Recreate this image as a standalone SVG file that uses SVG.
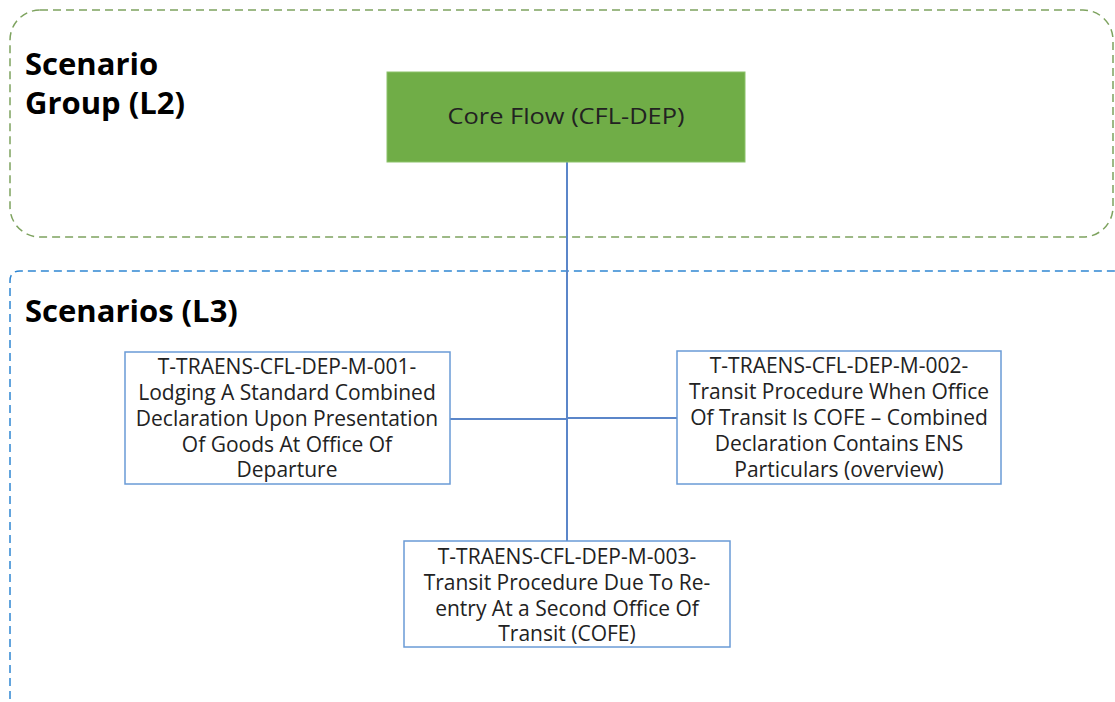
<svg xmlns="http://www.w3.org/2000/svg" width="1115" height="702" viewBox="0 0 1115 702">
<style>
.grp{fill:none;stroke-width:1.5;stroke-dasharray:8 5}
.ttl{font-family:"Open Sans","Liberation Sans",Arial,sans-serif;font-weight:bold;font-size:31px;fill:#000}
.box{fill:#fff;stroke:#6a9bd6;stroke-width:1.5}
.t{font-family:"Open Sans","Liberation Sans",Arial,sans-serif;font-size:21px;fill:#222;text-anchor:middle}
.con{stroke:#5b86c9;stroke-width:2;fill:none}
</style>
<rect width="1115" height="702" fill="#fff"/>
<g id="group-l2">
<rect class="grp" x="10" y="10" width="1103" height="227" rx="30" ry="30" stroke="#7ea35f"/>
<text class="ttl" x="25" y="75">Scenario</text>
<text class="ttl" x="25" y="114">Group (L2)</text>
</g>
<g id="group-l3">
<path class="grp" d="M10 712 V281 Q10 271 20 271 H1125" stroke="#2f86d2"/>
<text class="ttl" x="25" y="322">Scenarios (L3)</text>
</g>
<g id="connectors">
<line class="con" x1="567" y1="162" x2="567" y2="541"/>
<line class="con" x1="450" y1="419" x2="567" y2="419"/>
<line class="con" x1="567" y1="418" x2="677" y2="418"/>
</g>
<g id="core-flow">
<rect x="387" y="72" width="358" height="90" fill="#70ad47" stroke="#8cc26a" stroke-width="1"/>
<text class="t" x="566" y="124" font-size="25" textLength="237" lengthAdjust="spacingAndGlyphs">Core Flow (CFL-DEP)</text>
</g>
<g id="m001">
<rect class="box" x="125" y="352" width="325" height="132"/>
<text class="t" x="287" y="374">T-TRAENS-CFL-DEP-M-001-</text>
<text class="t" x="287" y="400">Lodging A Standard Combined</text>
<text class="t" x="287" y="426">Declaration Upon Presentation</text>
<text class="t" x="287" y="452">Of Goods At Office Of</text>
<text class="t" x="287" y="477">Departure</text>
</g>
<g id="m002">
<rect class="box" x="677" y="351" width="324" height="133"/>
<text class="t" x="839" y="373">T-TRAENS-CFL-DEP-M-002-</text>
<text class="t" x="839" y="399">Transit Procedure When Office</text>
<text class="t" x="839" y="425">Of Transit Is COFE – Combined</text>
<text class="t" x="839" y="451">Declaration Contains ENS</text>
<text class="t" x="839" y="477">Particulars (overview)</text>
</g>
<g id="m003">
<rect class="box" x="404" y="541" width="326" height="106"/>
<text class="t" x="567" y="564">T-TRAENS-CFL-DEP-M-003-</text>
<text class="t" x="567" y="590">Transit Procedure Due To Re-</text>
<text class="t" x="567" y="616">entry At a Second Office Of</text>
<text class="t" x="567" y="641">Transit (COFE)</text>
</g>
</svg>
